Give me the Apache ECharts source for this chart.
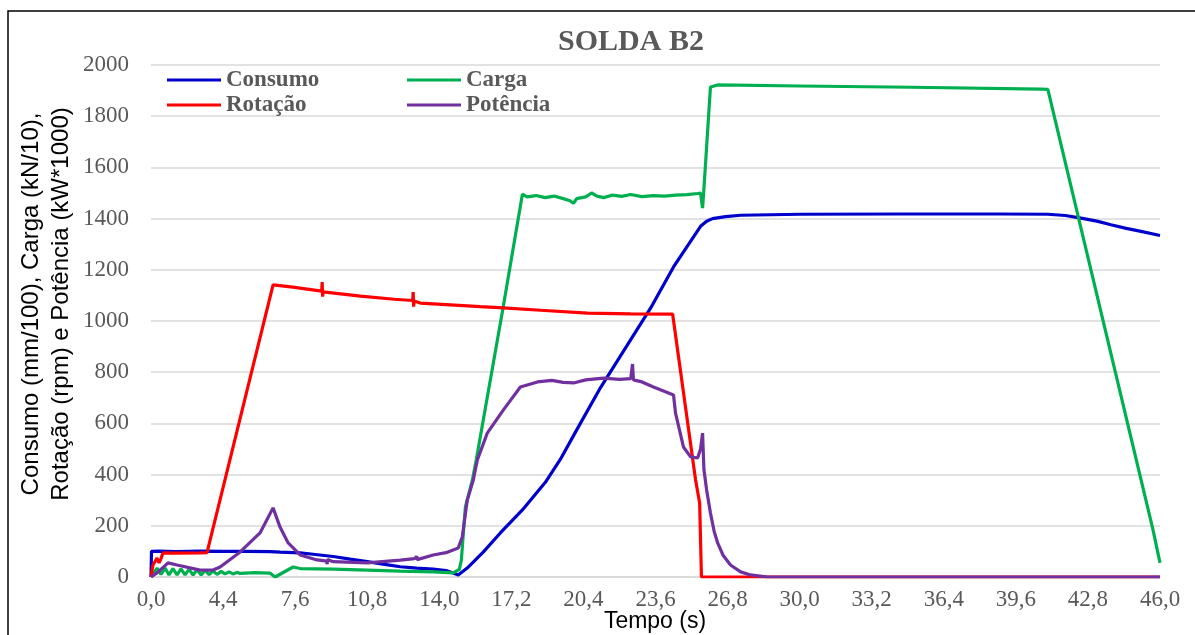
<!DOCTYPE html>
<html>
<head>
<meta charset="utf-8">
<script src="https://cdn.jsdelivr.net/npm/echarts@6/dist/echarts.min.js"></script>
<style>html,body{margin:0;padding:0;background:#fff;}#c{width:1195px;height:635px;}</style>
</head>
<body>
<div id="c"></div>
<script>
// Tick labels of the time axis (evenly spaced slots, as in the reference)
const tickLabels = ['0,0','4,4','7,6','10,8','14,0','17,2','20,4','23,6','26,8','30,0','33,2','36,4','39,6','42,8','46,0'];
const yTicks = [0, 2000, 200];

// [time (s), value]
const consumo = [[0,0],[0.03,100],[0.5,101],[1.5,99],[3.0,101],[4.4,100],[5.5,100],[6.5,99],[6.93,97],[7.82,94],[8.5,88],[9.29,80],[10.04,70],[10.8,60],[11.5,50],[12.27,40],[13.0,35],[13.73,31],[14.3,25],[14.62,16],[14.84,8],[14.89,2],[15.24,35],[15.96,98],[16.71,172],[17.69,262],[18.71,370],[19.38,460],[20.04,565],[21.16,740],[22.27,895],[23.38,1050],[24.4,1211],[25.6,1370],[25.87,1390],[26.13,1400],[26.71,1408],[27.38,1413],[30.04,1417],[34.49,1418],[38.93,1418],[41.02,1417],[41.8,1412],[42.49,1402],[43.2,1390],[43.82,1376],[44.5,1362],[45.16,1350],[46,1334]];

const carga = [[0,0],[0.37,35],[0.61,10],[0.86,35],[1.1,8],[1.34,33],[1.59,8],[1.83,32],[2.08,8],[2.32,30],[2.57,8],[2.81,28],[3.06,8],[3.3,26],[3.55,9],[3.79,24],[4.03,10],[4.28,22],[4.49,12],[4.67,20],[4.84,12],[5.02,18],[5.16,14],[5.8,17],[6.49,15],[6.71,0],[7.51,39],[7.82,33],[9.29,31],[10.8,27],[12.27,23],[13.73,20],[14.62,16],[14.89,30],[14.98,66],[15.07,172],[15.16,274],[15.47,379],[15.64,457],[16.84,1056],[17.69,1495],[17.9,1485],[18.3,1490],[18.7,1482],[19.1,1488],[19.5,1478],[19.8,1470],[19.96,1460],[20.1,1478],[20.5,1485],[20.76,1500],[21.0,1488],[21.3,1482],[21.7,1492],[22.1,1487],[22.5,1494],[23.0,1486],[23.5,1490],[24.0,1488],[24.5,1492],[25.0,1494],[25.47,1498],[25.6,1500],[25.69,1441],[25.73,1490],[26.04,1914],[26.36,1922],[30,1918],[35,1913],[40.71,1906],[41.02,1905],[45.16,379],[45.69,184],[46,55]];

const rotacao = [[0,0],[0.12,47],[0.37,74],[0.49,55],[0.6,70],[0.73,94],[1.5,93],[3.0,94],[3.42,95],[6.62,1141],[7.5,1132],[8.78,1117],[8.8,1152],[8.82,1095],[8.84,1114],[10.5,1097],[12.0,1085],[12.82,1080],[12.84,1113],[12.86,1056],[12.88,1078],[13.16,1070],[15.82,1056],[16.84,1051],[18.5,1042],[20.58,1031],[22.5,1028],[24.36,1027],[25.38,379],[25.56,289],[25.64,0],[46,0]];

const potencia = [[0,0],[0.37,16],[1.04,55],[1.59,47],[3.0,27],[3.79,27],[4.22,39],[5.16,98],[6.04,172],[6.62,270],[6.93,195],[7.29,133],[7.82,86],[8.5,68],[9.0,62],[9.02,50],[9.04,68],[9.29,60],[10.8,55],[12.27,66],[12.9,72],[13.0,80],[13.02,68],[13.73,86],[14.3,95],[14.84,113],[15.02,156],[15.24,300],[15.51,379],[15.69,457],[16.13,562],[16.84,652],[17.6,742],[18.36,762],[19.0,768],[19.5,760],[19.96,758],[20.5,770],[21.29,777],[22.0,772],[22.5,775],[22.58,832],[22.62,770],[23.0,762],[23.51,742],[24.4,711],[24.49,640],[24.84,508],[25.16,469],[25.47,465],[25.6,500],[25.69,562],[25.75,420],[25.87,340],[26.04,250],[26.2,180],[26.36,133],[26.6,85],[26.93,47],[27.38,20],[27.82,8],[28.58,0],[46,0]];

// The reference axis is label-slot based: first slot spans 4.4 s, the rest 3.2 s each
function toAxis(t){ return t <= 4.4 ? t/4.4 : 1 + (t-4.4)/3.2; }
function conv(arr){ return arr.map(p => [toAxis(p[0]), p[1]]); }

const chart = echarts.init(document.getElementById('c'), null, {renderer:'canvas'});
const serif = '"Liberation Serif", "Times New Roman", serif';
const sans = '"Liberation Sans", Arial, sans-serif';
const legendText = {fontFamily: serif, fontWeight:'bold', fontSize:23, color:'#595959', lineHeight:24};

const mk = (name, data, color) => ({
  name, type:'line', data: conv(data), showSymbol:false, symbol:'none',
  color, lineStyle:{color, width:3.2}, animation:false, z:2
});

chart.setOption({
  backgroundColor:'#fff',
  animation:false,
  grid:{left:151, right:35, top:65, bottom:58, containLabel:false, outerBoundsMode:'none'},
  legend:[
    {left:167, top:68, padding:0, orient:'vertical', itemGap:1, itemWidth:54, itemHeight:3, icon:'rect',
     data:['Consumo','Rotação'], textStyle:legendText, selectedMode:false},
    {left:407, top:68, padding:0, orient:'vertical', itemGap:1, itemWidth:54, itemHeight:3, icon:'rect',
     data:['Carga','Potência'], textStyle:legendText, selectedMode:false}
  ],
  xAxis:{
    type:'value', min:0, max:tickLabels.length-1, interval:1,
    axisLine:{show:true, lineStyle:{color:'#d9d9d9', width:1.5}},
    axisTick:{show:false},
    splitLine:{show:false},
    axisLabel:{margin:11, fontFamily:serif, fontSize:23, color:'#595959',
      formatter: v => tickLabels[Math.round(v)] || ''}
  },
  yAxis:{
    type:'value', min:yTicks[0], max:yTicks[1], interval:yTicks[2],
    axisLine:{show:false}, axisTick:{show:false},
    splitLine:{lineStyle:{color:'#d9d9d9', width:1.5}},
    axisLabel:{margin:22, fontFamily:serif, fontSize:23, color:'#595959', formatter: v => String(v)}
  },
  series:[
    mk('Consumo', consumo, '#0000CC'),
    mk('Carga', carga, '#00B050'),
    mk('Rotação', rotacao, '#FF0000'),
    mk('Potência', potencia, '#7030A0')
  ],
  graphic:[
    {type:'rect', shape:{x:8, y:11, width:1200, height:640}, style:{fill:'none', stroke:'#000', lineWidth:1.5}, silent:true, z:-1},
    {type:'text', x:631, y:42, style:{text:'SOLDA B2', font:'bold 30px ' + serif, fill:'#595959', textAlign:'center', textVerticalAlign:'middle'}},
    {type:'text', x:31, y:304, rotation:Math.PI/2, style:{text:'Consumo (mm/100), Carga (kN/10),', font:'24px ' + sans, fill:'#000', textAlign:'center', textVerticalAlign:'middle'}},
    {type:'text', x:61, y:304, rotation:Math.PI/2, style:{text:'Rotação (rpm) e Potência (kW*1000)', font:'24px ' + sans, fill:'#000', textAlign:'center', textVerticalAlign:'middle'}},
    {type:'text', x:655, y:622, style:{text:'Tempo (s)', font:'23px ' + sans, fill:'#000', textAlign:'center', textVerticalAlign:'middle'}}
  ]
});
</script>
</body>
</html>
